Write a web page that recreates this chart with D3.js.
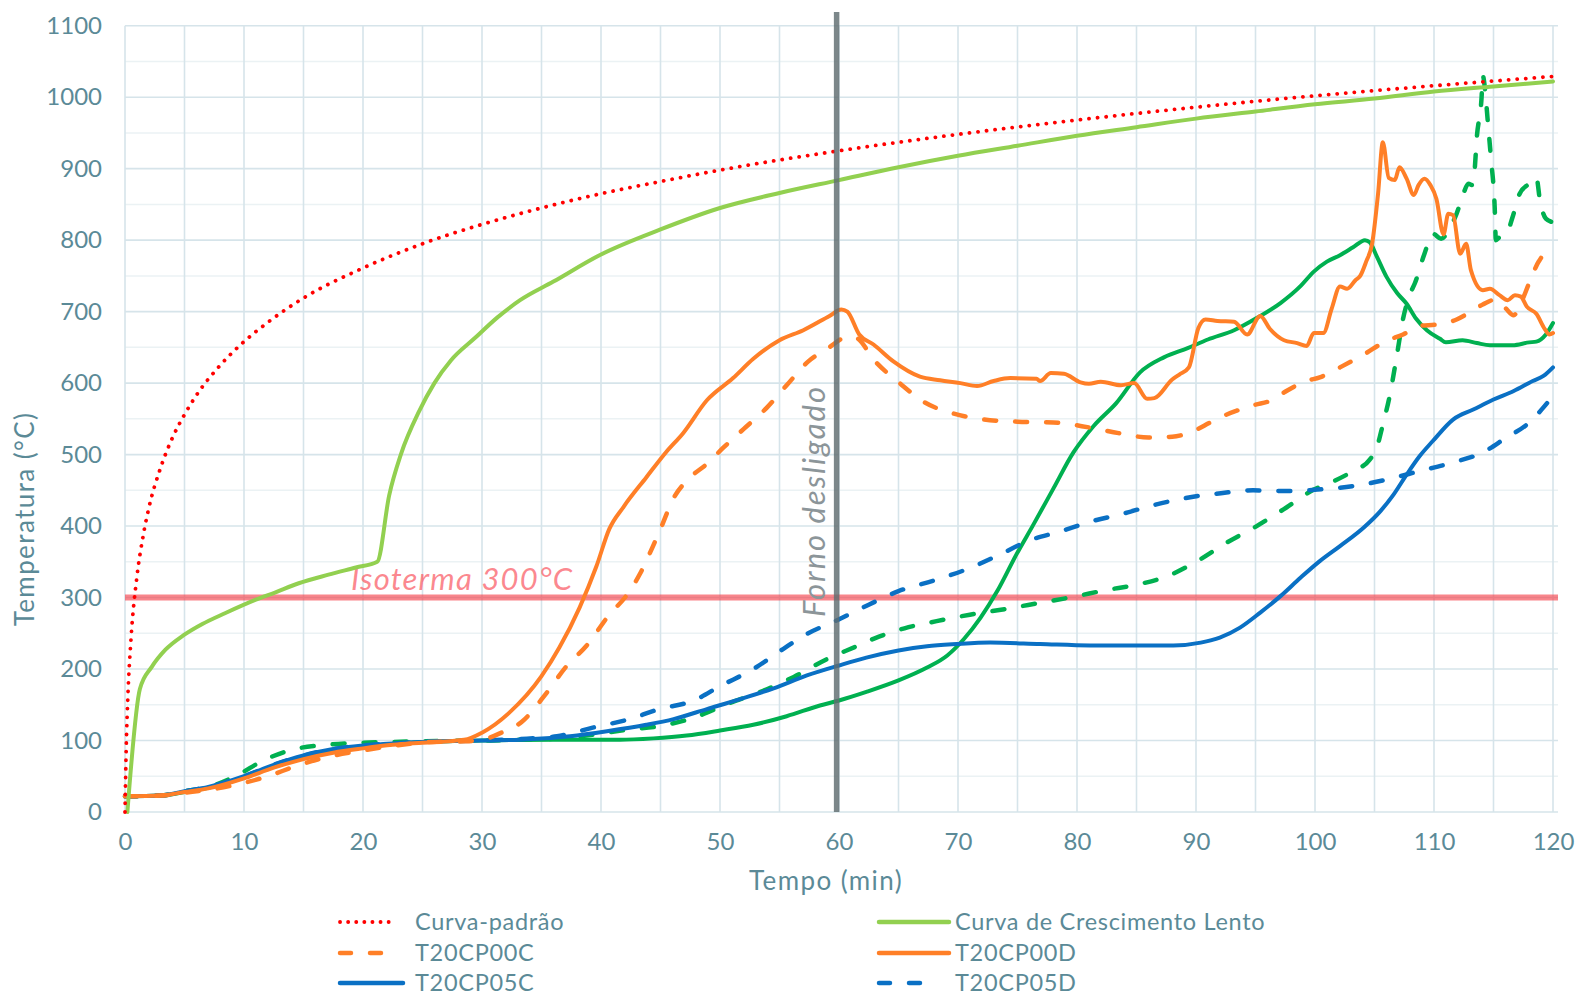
<!DOCTYPE html>
<html><head><meta charset="utf-8">
<script src="https://cdn.jsdelivr.net/npm/d3@7/dist/d3.min.js"></script>
<style>body{margin:0;background:#fff}svg{display:block}</style>
</head><body><svg id="c" width="1580" height="997"></svg>
<script>
// ---- data ----
const xTicks = [0,10,20,30,40,50,60,70,80,90,100,110,120];
const yTicks = [0,100,200,300,400,500,600,700,800,900,1000,1100];
const isoterma = 300;
const fornoDesligado = 59.8;

const curvaPadrao = [[0,0],[0.1,88],[0.25,165],[0.5,241],[1,329],[1.5,384],[2,425],[3,482],[4,524],[5,556],[6,583],[8,625],[10,658],[12,685],[15,719],[20,761],[25,795],[30,822],[35,845],[40,865],[45,882],[50,898],[60,925],[70,948],[80,968],[90,986],[100,1002],[110,1016],[120,1029]];

const crescimentoLento = [[0.2,0],[1.25,172],[2.25,203],[3.4,227],[4.9,247],[6.5,263],[8.4,278],[11,297],[12.6,307],[14.6,320],[17.1,332],[19.4,342],[21.2,350],[22.2,443],[23.2,501],[24.7,560],[26,600],[27.4,632],[29.4,663],[31.3,692],[33.2,716],[36,742],[40,780],[45,815],[50,845],[55,866],[60,884],[65,902],[70,918],[75,932],[80,946],[85,958],[90,970],[95,980],[100,990],[105,998],[110,1008],[115,1015],[120,1022]];

const t20cp00c = [[0,22],[3,23],[5,27],[7,31],[9,37],[11.8,49],[14.5,65],[17,77],[20,86],[22.7,93],[25.8,98],[28.6,99],[30,101],[31.5,110],[33.4,127],[35.4,166],[37.1,204],[38.8,233],[40.7,276],[42.1,302],[43.3,334],[44.1,362],[45,396],[46.1,439],[47.5,468],[48.9,487],[50.3,510],[52,536],[53.9,565],[55.6,597],[57.4,630],[59,648],[60.8,665],[61.5,663],[62.9,633],[65.1,600],[67.2,573],[69.5,558],[72.2,549],[75,546],[78,545],[81,538],[83.5,530],[86,524],[88,525],[89.8,533],[91.2,545],[92.3,554],[93.7,563],[94.8,569],[96.5,577],[97.6,589],[99.3,603],[100.4,608],[102.1,622],[104.1,640],[106,659],[107.4,668],[108.8,680],[110.2,682],[111.9,689],[112.7,696],[114.1,710],[115.2,717],[116,705],[116.7,695],[117.3,712],[118,740],[118.8,770],[119.2,778],[119.7,770],[120,765]];

const t20cp00d = [[0,22],[3,23],[5,28],[7,33],[10,47],[12.5,62],[15,74],[17.5,83],[20,89],[22.5,94],[25,97],[28.5,101],[30,111],[32.3,139],[35,190],[36.5,230],[38.2,286],[39.6,343],[40.7,396],[41.9,427],[43.8,468],[45.5,504],[46.9,530],[48.9,576],[51.1,607],[52.8,634],[55,660],[57,674],[59.2,694],[60.2,703],[60.7,700],[61.7,668],[62.9,654],[64.6,630],[66.8,609],[68.5,604],[70.2,600],[71.6,596],[73,603],[74.4,607],[76.6,606],[76.9,603],[77.8,614],[78.9,613],[80.3,601],[81,599],[82,602],[83.7,597],[84.8,600],[85.9,578],[86.5,579],[88,605],[88.6,612],[89.4,622],[90.2,677],[90.8,689],[91.8,687],[93.2,686],[94.3,668],[95.4,694],[96.2,676],[97.4,660],[98.5,656],[99.3,652],[99.9,670],[100.7,670],[101.4,704],[102.1,735],[102.7,732],[103.4,744],[103.8,750],[104.3,770],[104.8,795],[105.3,865],[105.7,937],[106.2,887],[106.7,884],[107.1,902],[107.7,886],[108.3,863],[108.7,877],[109.2,886],[109.7,877],[110.2,858],[110.8,808],[111.2,837],[111.6,835],[112.2,781],[112.7,795],[113.1,758],[114.1,730],[114.7,732],[115.5,723],[116.2,716],[116.8,723],[117.3,721],[117.8,707],[118.6,697],[119.3,676],[119.7,668],[120,670]];

const t20cp05c = [[0,22],[3,23],[5,29],[7,35],[10,50],[12.5,66],[15,79],[17.5,88],[20,93],[22.5,96],[25,98],[30,100],[33.2,101],[37.4,106],[40.5,113],[43.8,122],[46.1,130],[48.9,144],[51.7,158],[54.5,173],[57.3,191],[60,205],[62.3,216],[65,226],[67.4,232],[69.9,235],[72.7,237],[76.9,235],[81.1,233],[85.3,233],[88.1,233],[90.4,237],[92,244],[93.7,258],[95.4,279],[97.1,302],[98.8,328],[100.4,351],[102.1,372],[104.1,398],[105.5,421],[106.6,444],[107.7,472],[108.8,498],[109.9,519],[111.6,549],[113.3,563],[115,577],[116.7,589],[118.3,603],[119.2,610],[120,622]];

const t20cp05d = [[0,22],[3,23],[5,29],[7,35],[10,50],[12.5,66],[15,79],[17.5,88],[20,93],[22.5,96],[25,98],[30,100],[33,102],[36.3,106],[39.3,118],[42.4,130],[44.9,144],[47.8,156],[50,176],[52.8,200],[55.3,228],[57.3,249],[59.8,268],[62.5,290],[65,309],[68,324],[70.8,340],[73.5,360],[76,380],[78.5,392],[81.3,407],[83.8,417],[86.6,430],[89.4,440],[92.1,446],[94.8,450],[97.6,449],[100.2,451],[103.2,456],[106,465],[108.8,477],[111.6,489],[114.1,503],[116.1,524],[117.8,542],[119.2,566],[119.5,572]];

const t20cp10c = [[0,22],[3,23],[5,28],[7,34],[10,48],[12.5,64],[15,76],[17.5,85],[20,91],[22.5,95],[25,98],[30,100],[36,101],[41.6,101],[44.4,103],[47.2,107],[50,114],[52.8,122],[55.6,134],[58.4,149],[60,156],[62.3,168],[65,184],[67.4,202],[69.1,219],[70.5,242],[71.9,272],[73.3,309],[74.9,360],[76.3,401],[78,452],[79.7,503],[81.4,540],[83.3,572],[85.3,615],[87.3,636],[89.3,649],[91,661],[93.2,674],[95.1,691],[97.1,712],[98.8,736],[99.9,756],[101,770],[102.1,779],[103.2,790],[104.2,800],[104.6,797],[105.2,777],[106,749],[106.9,726],[107.7,711],[108.5,690],[109.4,674],[110.5,662],[111,657],[112.4,660],[113.6,656],[114.7,653],[116.6,653],[118,657],[118.6,658],[119.4,668],[120,684]];

const t20cp10d = [[0,22],[3,23],[5,29],[7,35],[9.5,52],[11.5,71],[14,87],[17,94],[20,97],[22.5,98],[25,99],[30,100],[33,101],[36.5,103],[39.3,108],[42.1,115],[44.9,120],[47.8,132],[50.6,151],[53.4,168],[56.2,189],[59,214],[61.5,232],[63,243],[65.5,257],[68.2,267],[71,276],[74,284],[77,293],[79.7,301],[82.3,310],[85.3,319],[87.6,330],[90.1,351],[92.6,377],[95.1,400],[97.6,426],[99.9,451],[101.6,463],[103.2,477],[104.6,493],[105.2,510],[105.7,542],[106.3,584],[106.9,641],[107.4,690],[108,725],[108.4,740],[109.2,781],[109.9,809],[110.6,802],[111.3,816],[111.9,837],[112.3,856],[112.9,879],[113.2,877],[113.4,895],[113.6,944],[114,1000],[114.1,1030],[114.3,1009],[114.5,970],[114.8,912],[115.1,846],[115.2,800],[115.5,804],[116.1,809],[116.6,832],[117.2,865],[118,879],[118.6,888],[118.9,856],[119.4,830],[120,825]];

const legendNames = ["Curva-padrão","Curva de Crescimento Lento","T20CP00C","T20CP00D","T20CP05C","T20CP05D"];

// ---- styles ----
const FONT = "Lato, 'Open Sans', sans-serif";
const TXT = "#5b8a97";
const RED = "#ff0000", LGREEN = "#92d050", ORANGE = "#ff7f27", BLUE = "#0a70c4", DGREEN = "#00b050";
const DASH = "12 19";
const series = [
  {d:t20cp10d, c:DGREEN, w:4.5, dash:DASH},
  {d:t20cp10c, c:DGREEN, w:4, dash:null},
  {d:t20cp05d, c:BLUE, w:4.5, dash:DASH},
  {d:t20cp05c, c:BLUE, w:4, dash:null},
  {d:t20cp00c, c:ORANGE, w:4.5, dash:DASH},
  {d:t20cp00d, c:ORANGE, w:4, dash:null},
  {d:crescimentoLento, c:LGREEN, w:4, dash:null},
  {d:curvaPadrao, c:RED, w:3.8, dash:"0.1 8.5"}
];

const svg = d3.select("#c");
svg.append("rect").attr("width",1580).attr("height",997).attr("fill","#fff");
const x = d3.scaleLinear().domain([0,120]).range([125,1553]);
const y = d3.scaleLinear().domain([0,1100]).range([812,25.7]);
const xRight = 1558;

// grid
const g = svg.append("g");
d3.range(50,1100,100).forEach(v=>{
  g.append("line").attr("x1",125).attr("x2",xRight).attr("y1",y(v)).attr("y2",y(v))
   .attr("stroke","#ebf2f4").attr("stroke-width",1.5);
});
d3.range(0,121,5).forEach(v=>{
  g.append("line").attr("x1",x(v)).attr("x2",x(v)).attr("y1",y(1100)).attr("y2",y(0))
   .attr("stroke","#d6e4ea").attr("stroke-width",1.6);
});
yTicks.forEach(v=>{
  g.append("line").attr("x1",125).attr("x2",xRight).attr("y1",y(v)).attr("y2",y(v))
   .attr("stroke","#d6e4ea").attr("stroke-width",1.6);
});

// axes
const ax = svg.append("g").attr("transform","translate(0,812)")
  .call(d3.axisBottom(x).tickValues(xTicks).tickSize(0).tickPadding(21).tickFormat(d3.format("d")));
const ay = svg.append("g").attr("transform","translate(125,0)")
  .call(d3.axisLeft(y).tickValues(yTicks).tickSize(0).tickPadding(23).tickFormat(d3.format("d")));
[ax,ay].forEach(a=>{
  a.select(".domain").remove();
  a.selectAll("text").attr("font-family",FONT).attr("font-size",24).attr("fill",TXT);
});

svg.append("text").attr("x",826).attr("y",890).attr("text-anchor","middle")
  .attr("font-family",FONT).attr("font-size",26).attr("letter-spacing",1.4).attr("fill",TXT).text("Tempo (min)");
svg.append("text").attr("transform","translate(34,519) rotate(-90)").attr("text-anchor","middle")
  .attr("font-family",FONT).attr("font-size",26).attr("letter-spacing",1.4).attr("fill",TXT).text("Temperatura (°C)");

// isotherm
svg.append("line").attr("x1",125).attr("x2",xRight).attr("y1",y(isoterma)).attr("y2",y(isoterma))
  .attr("stroke","rgba(245,60,70,0.62)").attr("stroke-width",6);
svg.append("text").attr("x",351).attr("y",y(isoterma)-8)
  .attr("font-family",FONT).attr("font-style","italic").attr("font-size",31).attr("letter-spacing",1.2)
  .attr("fill","rgba(250,90,100,0.72)").text("Isoterma 300°C");

// series
const line = d3.line().x(d=>x(d[0])).y(d=>y(d[1])).curve(d3.curveMonotoneX);
series.forEach(s=>{
  const p = svg.append("path").attr("d",line(s.d)).attr("fill","none")
    .attr("stroke",s.c).attr("stroke-width",s.w).attr("stroke-linejoin","round").attr("stroke-linecap","round");
  if (s.dash) p.attr("stroke-dasharray",s.dash);
});

// forno desligado line
svg.append("line").attr("x1",x(fornoDesligado)).attr("x2",x(fornoDesligado)).attr("y1",12).attr("y2",812)
  .attr("stroke","rgba(95,108,112,0.82)").attr("stroke-width",5.5);
svg.append("text").attr("transform",`translate(${x(fornoDesligado)-12},501) rotate(-90)`).attr("text-anchor","middle")
  .attr("font-family",FONT).attr("font-style","italic").attr("font-size",31).attr("letter-spacing",2)
  .attr("fill","#8c9599").text("Forno desligado");

// legend
const leg = [
  {n:legendNames[0], c:RED, w:3.8, dash:"0.1 8", col:0, row:0, len:56},
  {n:legendNames[1], c:LGREEN, w:4.5, dash:null, col:1, row:0, len:70},
  {n:legendNames[2], c:ORANGE, w:4.5, dash:"11 19", col:0, row:1, len:46},
  {n:legendNames[3], c:ORANGE, w:4.5, dash:null, col:1, row:1, len:70},
  {n:legendNames[4], c:BLUE, w:4.5, dash:null, col:0, row:2, len:63},
  {n:legendNames[5], c:BLUE, w:4.5, dash:"11 19", col:1, row:2, len:50}
];
const colX = [340, 879], textX = [415, 955], rowY = [922, 953, 983];
leg.forEach(l=>{
  const ly = rowY[l.row];
  const ln = svg.append("line").attr("x1",colX[l.col]).attr("x2",colX[l.col]+l.len).attr("y1",ly).attr("y2",ly)
    .attr("stroke",l.c).attr("stroke-width",l.w).attr("stroke-linecap","round");
  if (l.dash) ln.attr("stroke-dasharray",l.dash);
  svg.append("text").attr("x",textX[l.col]).attr("y",ly).attr("dy","0.36em")
    .attr("font-family",FONT).attr("font-size",23.5).attr("letter-spacing",0.7).attr("fill",TXT).text(l.n);
});
</script></body></html>
